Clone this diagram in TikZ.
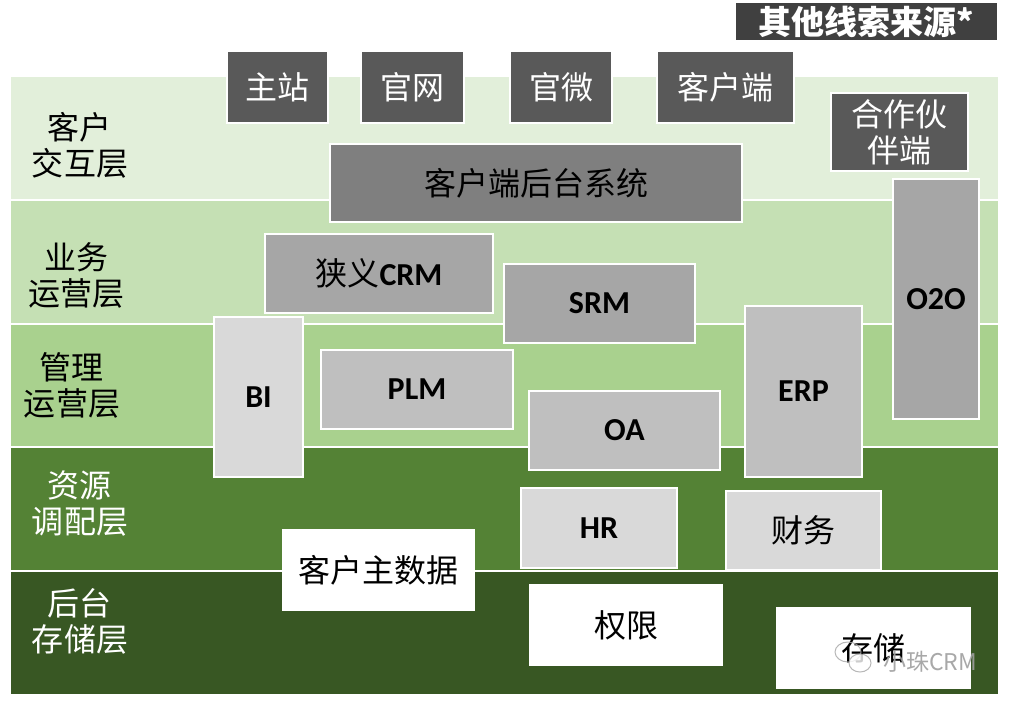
\documentclass[tikz,border=0pt]{standalone}
\usepackage{fontspec}
\setmainfont{Carlito}
\newfontfamily\cjk{Noto Sans CJK SC}
\newfontfamily\lat{Carlito}
\definecolor{bandA}{HTML}{E2EFDA}
\definecolor{bandB}{HTML}{C5E0B4}
\definecolor{bandC}{HTML}{A9D18E}
\definecolor{bandD}{HTML}{548235}
\definecolor{bandE}{HTML}{385723}
\definecolor{gA}{HTML}{404040}
\definecolor{gB}{HTML}{595959}
\definecolor{gC}{HTML}{7F7F7F}
\definecolor{gD}{HTML}{A6A6A6}
\definecolor{gE}{HTML}{BFBFBF}
\definecolor{gF}{HTML}{D9D9D9}
\tikzset{
  band/.style={draw=white, line width=0.8pt},
  box/.style={draw=white, line width=0.6pt, inner sep=0pt, align=center},
  cn/.style={font=\cjk\fontsize{16}{18}\selectfont},
  en/.style={font=\lat\bfseries\fontsize{16}{18.5}\selectfont},
  layerlbl/.style={font=\cjk\fontsize{16}{18}\selectfont, align=center},
}
\newcommand{\bx}[7]{% name, x1,y1,x2,y2, style, text
  \node[box,#6, minimum width={(#4-#2)*0.5pt}, minimum height={(#5-#3)*0.5pt}] (#1) at ({(#2+#4)/2},{(#3+#5)/2}) {#7};}
\begin{document}
\begin{tikzpicture}[x=0.5pt,y=-0.5pt]
\useasboundingbox (0,0) rectangle (1015,705);
% bands
\fill[bandA] (11,77) rectangle (998,200);
\fill[bandB] (11,200) rectangle (998,324);
\fill[bandC] (11,324) rectangle (998,447);
\fill[bandD] (11,447) rectangle (998,571);
\fill[bandE] (11,571) rectangle (998,694);
\foreach \yy in {200,324,447,571} \draw[band] (11,\yy) -- (998,\yy);
% layer labels
\node[layerlbl] (l1) at (80,145) {客户\\[0pt]交互层};
\node[layerlbl] (l2) at (76,275) {业务\\[0pt]运营层};
\node[layerlbl] (l3) at (72,385) {管理\\[0pt]运营层};
\node[layerlbl, text=white] (l4) at (80,504) {资源\\[0pt]调配层};
\node[layerlbl, text=white] (l5) at (80,621) {后台\\[0pt]存储层};
% top boxes
\bx{other}{735}{2}{998}{41}{fill=gA,text=white,font=\cjk\bfseries\fontsize{16.5}{18}\selectfont}{其他线索来源*}
\bx{zhuzhan}{227}{51}{328}{123}{fill=gB,text=white,cn}{主站}
\bx{guanwang}{361}{51}{464}{123}{fill=gB,text=white,cn}{官网}
\bx{guanwei}{510}{51}{612}{123}{fill=gB,text=white,cn}{官微}
\bx{kehuduan}{657}{51}{794}{123}{fill=gB,text=white,cn}{客户端}
\bx{partner}{831}{93}{968}{171}{fill=gB,text=white,cn}{合作伙\\[0pt]伴端}
\bx{backend}{330}{144}{742}{222}{fill=gC,text=black,cn}{客户端后台系统}
\bx{o2o}{893}{179}{979}{419}{fill=gD,en}{O2O}
\bx{crm}{265}{234}{493}{313}{fill=gD,cn}{狭义{\lat\bfseries CRM}}
\bx{srm}{504}{264}{695}{343}{fill=gD,en}{SRM}
\bx{bi}{214}{317}{303}{477}{fill=gF,en}{BI}
\bx{plm}{321}{350}{513}{429}{fill=gE,en}{PLM}
\bx{oa}{529}{391}{720}{470}{fill=gE,en}{OA}
\bx{erp}{745}{306}{862}{477}{fill=gE,en}{ERP}
\bx{hr}{521}{488}{677}{568}{fill=gF,en}{HR}
\bx{caiwu}{726}{491}{881}{570}{fill=gF,cn}{财务}
\bx{mdm}{283}{530}{474}{610}{fill=white,cn}{客户主数据}
\bx{quanxian}{530}{585}{722}{665}{fill=white,cn}{权限}
\bx{cunchu}{777}{608}{970}{688}{fill=white,cn}{\raisebox{-1.5pt}{存储}}
% watermark
\begin{scope}[draw=gray!70, line width=0.5pt, opacity=0.8]
  \draw (848,652) ellipse [x radius=13, y radius=10];
  \draw[fill=white] (860,663) ellipse [x radius=11, y radius=9];
\end{scope}
\node[text=gray!75, opacity=0.9, font=\cjk\fontsize{11.5}{13}\selectfont, inner sep=0pt] (wm) at (930,662) {小珠CRM};
\end{tikzpicture}
\end{document}
